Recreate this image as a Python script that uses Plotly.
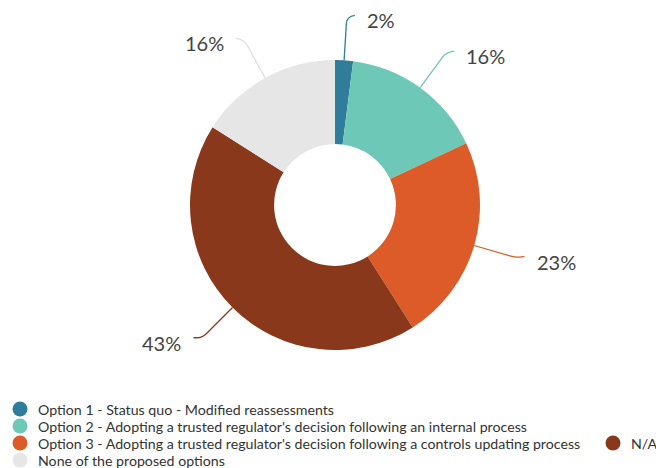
import math
import plotly.graph_objects as go

# Survey responses
categories = [
    "Option 1 - Status quo - Modified reassessments",
    "Option 2 - Adopting a trusted regulator's decision following an internal process",
    "Option 3 - Adopting a trusted regulator's decision following a controls updating process",
    "N/A",
    "None of the proposed options",
]
values = [2, 16, 23, 43, 16]
colors = ["#2f7d9b", "#6ec8b7", "#dc5b29", "#8a381c", "#e6e6e6"]

W, H = 656, 468
CX, CY, R = 335, 205, 145
HOLE = 0.42

fig = go.Figure()

fig.add_trace(go.Pie(
    labels=categories,
    values=values,
    sort=False,
    direction="clockwise",
    rotation=0,
    hole=HOLE,
    marker=dict(colors=colors, line=dict(width=0)),
    textinfo="none",
    hoverinfo="label+percent",
    showlegend=False,
    domain=dict(x=[(CX - R) / W, (CX + R) / W], y=[1 - (CY + R) / H, 1 - (CY - R) / H]),
))

# Invisible pixel-space axes for connector lines, labels and legend
fig.add_trace(go.Scatter(x=[0], y=[0], mode="markers", marker=dict(opacity=0),
                         hoverinfo="skip", showlegend=False))

shapes = []
annotations = []
total = sum(values)
start = 0.0
R_ELBOW = 189
for v, c in zip(values, colors):
    frac = v / total
    mid = (start + frac / 2) * 2 * math.pi
    start += frac
    s, co = math.sin(mid), math.cos(mid)
    x0, y0 = CX + R * s, CY - R * co
    xa, ya = CX + (R_ELBOW - 7) * s, CY - (R_ELBOW - 7) * co
    xe, ye = CX + R_ELBOW * s, CY - R_ELBOW * co
    side = 1 if s >= 0 else -1
    xt = xe + side * 8
    line_col = c if c != "#e6e6e6" else "#e0e0e0"
    shapes.append(dict(
        type="path", xref="x", yref="y",
        path=f"M {x0:.1f},{y0:.1f} L {xa:.1f},{ya:.1f} Q {xe:.1f},{ye:.1f} {xt:.1f},{ye - 1:.1f}",
        line=dict(color=line_col, width=1.3),
    ))
    annotations.append(dict(
        x=xt + side * 10, y=ye + 4, xref="x", yref="y",
        text=f"{round(frac * 100)}%", showarrow=False,
        xanchor="left" if side > 0 else "right", yanchor="middle",
        font=dict(family="Lato", size=20, color="#444444"),
    ))

# Legend: four rows in the first column, N/A in a second column
legend_pos = [(20, 409), (20, 426), (20, 443), (613, 443), (20, 460)]
for (lx, ly), name, c in zip(legend_pos, categories, colors):
    shapes.append(dict(type="circle", xref="x", yref="y",
                       x0=lx - 7.5, x1=lx + 7.5, y0=ly - 7.5, y1=ly + 7.5,
                       fillcolor=c, line=dict(width=0)))
    annotations.append(dict(x=lx + 16, y=ly, xref="x", yref="y", text=name,
                            showarrow=False, xanchor="left", yanchor="middle",
                            font=dict(family="Lato", size=14.2, color="#333333")))

fig.update_layout(
    width=W, height=H,
    margin=dict(l=0, r=0, t=0, b=0),
    paper_bgcolor="white", plot_bgcolor="rgba(0,0,0,0)",
    xaxis=dict(range=[0, W], visible=False, fixedrange=True),
    yaxis=dict(range=[H, 0], visible=False, fixedrange=True),
    shapes=shapes, annotations=annotations,
)

fig.write_html("out.html")
